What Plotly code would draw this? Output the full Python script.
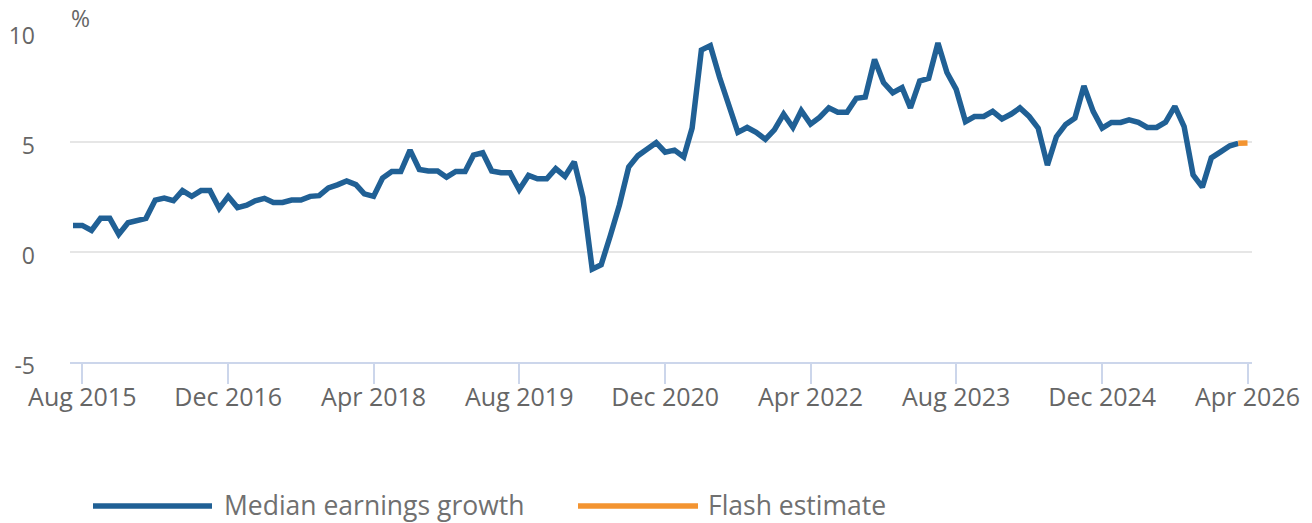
import pandas as pd
import plotly.graph_objects as go

# ---- data ----
start_month = "2015-07-01"
median_growth = [
    1.21, 1.21, 0.98, 1.53, 1.53, 0.80, 1.33, 1.41, 1.53, 2.36,
    2.45, 2.33, 2.79, 2.53, 2.79, 2.79, 1.98, 2.53, 2.02, 2.13,
    2.33, 2.44, 2.25, 2.25, 2.36, 2.36, 2.53, 2.56, 2.91, 3.05,
    3.23, 3.06, 2.64, 2.53, 3.36, 3.66, 3.66, 4.63, 3.75, 3.68,
    3.68, 3.40, 3.66, 3.66, 4.40, 4.51, 3.68, 3.60, 3.60, 2.83,
    3.48, 3.33, 3.33, 3.79, 3.44, 4.10, 2.48, -0.78, -0.58, 0.76,
    2.14, 3.86, 4.38, 4.67, 4.97, 4.54, 4.63, 4.32, 5.63, 9.18,
    9.38, 7.93, 6.70, 5.44, 5.66, 5.44, 5.12, 5.55, 6.27, 5.66,
    6.42, 5.81, 6.12, 6.55, 6.35, 6.35, 6.99, 7.04, 8.75, 7.70,
    7.24, 7.47, 6.55, 7.77, 7.89, 9.50, 8.16, 7.39, 5.93, 6.16,
    6.16, 6.39, 6.05, 6.27, 6.55, 6.16, 5.63, 3.95, 5.24, 5.80,
    6.09, 7.55, 6.39, 5.63, 5.89, 5.89, 6.01, 5.89, 5.66, 5.66,
    5.90, 6.62, 5.70, 3.51, 2.95, 4.28, 4.55, 4.83, 4.94,
]
flash_estimate = [4.94, 4.95]  # last published month -> flash month

y_tick_values = [-5, 0, 5, 10]
y_tick_text = ["-5", "0", "5", "10"]
x_tick_start = "2015-08-01"
x_tick_step_months = 16
series_names = ["Median earnings growth", "Flash estimate"]

# ---- styles ----
BLUE = "#206095"
ORANGE = "#F39431"
TEXT = "#666666"
FONT = "Open Sans"

n_main = len(median_growth)
dates_all = pd.date_range(start_month, periods=n_main + 1, freq="MS")
dates_main = dates_all[:n_main]
dates_flash = dates_all[n_main - 1:]

fig = go.Figure()
fig.add_trace(go.Scatter(
    x=dates_main, y=median_growth, mode="lines", name=series_names[0],
    line=dict(color=BLUE, width=5.5), showlegend=False,
    hovertemplate="%{x|%b %Y}: %{y:.1f}%<extra></extra>",
))
fig.add_trace(go.Scatter(
    x=dates_flash, y=flash_estimate, mode="lines", name=series_names[1],
    line=dict(color=ORANGE, width=5.5), showlegend=False,
    hovertemplate="%{x|%b %Y}: %{y:.1f}%<extra></extra>",
))

# page body has an 8px margin, so the figure is drawn 8px smaller/offset
OFF = 8
W, H = 1312 - OFF, 523 - OFF
L, R, T, B = 70 - OFF, 60, 32 - OFF, 161
pw, ph = W - L - R, H - T - B


def px(xp):
    return (xp - OFF - L) / pw


def py(yp):
    return (H - B - (yp - OFF)) / ph


fig.update_layout(
    width=W, height=H,
    margin=dict(l=L, r=R, t=T, b=B, autoexpand=False),
    paper_bgcolor="white", plot_bgcolor="white",
    font=dict(family=FONT, color=TEXT, size=23),
    xaxis=dict(
        type="date", automargin=False,
        range=["2015-06-21", "2026-04-16"],
        tick0=x_tick_start, dtick="M%d" % x_tick_step_months,
        tickformat="%b %Y",
        ticks="outside", ticklen=20, tickwidth=2, tickcolor="#ccd6eb",
        showline=True, linecolor="#ccd6eb", linewidth=2,
        showgrid=False, zeroline=False,
        ticklabelstandoff=-8,
        tickfont=dict(size=25, color=TEXT),
    ),
    yaxis=dict(
        automargin=False,
        range=[-5, 10], tickvals=y_tick_values, ticktext=y_tick_text,
        showgrid=True, gridcolor="#e6e6e6", gridwidth=2,
        zeroline=False, showline=False, ticks="",
        ticklabelstandoff=34, ticklabelshift=4,
        tickfont=dict(size=23, color=TEXT),
    ),
)

# "%" unit label
fig.add_annotation(
    x=0, y=1, xref="paper", yref="paper", xanchor="left", yanchor="middle",
    xshift=0, yshift=14, text="%", showarrow=False, borderpad=0,
    font=dict(size=23, color=TEXT),
)

# custom legend (coordinates in reference-picture pixels)
legend_y = 505
for (x0, x1, color), name, tx in [
    ((93, 212, BLUE), series_names[0], 223),
    ((578, 698, ORANGE), series_names[1], 707),
]:
    fig.add_shape(type="line", xref="paper", yref="paper",
                  x0=px(x0), x1=px(x1), y0=py(legend_y + 1), y1=py(legend_y + 1),
                  line=dict(color=color, width=5.5))
    fig.add_annotation(x=px(tx), y=py(legend_y), xref="paper", yref="paper",
                       xanchor="left", yanchor="middle", text=name,
                       showarrow=False, borderpad=0,
                       font=dict(size=26.5, color="#707070"))

fig.write_html("out.html")
